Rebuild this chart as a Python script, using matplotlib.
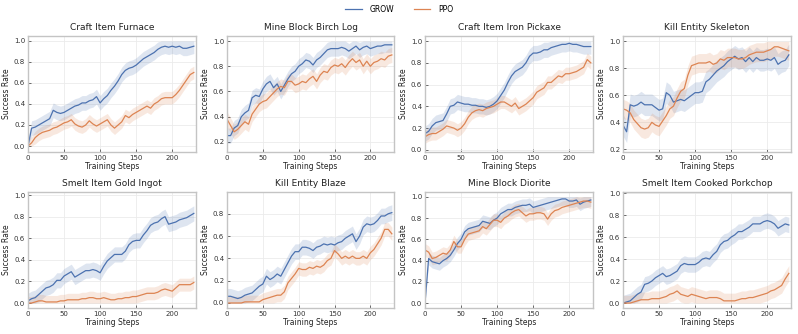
import matplotlib
matplotlib.use("Agg")
import matplotlib.pyplot as plt
import numpy as np

steps = list(range(0, 235, 5))

titles = ["Craft Item Furnace", "Mine Block Birch Log", "Craft Item Iron Pickaxe",
          "Kill Entity Skeleton", "Smelt Item Gold Ingot", "Kill Entity Blaze",
          "Mine Block Diorite", "Smelt Item Cooked Porkchop"]

grow_furnace = [0.0, 0.17, 0.18, 0.20, 0.22, 0.24, 0.26, 0.34, 0.32, 0.31, 0.32, 0.34, 0.36, 0.38, 0.39, 0.41,
                0.41, 0.43, 0.44, 0.47, 0.41, 0.45, 0.48, 0.53, 0.57, 0.62, 0.68, 0.72, 0.74, 0.75, 0.77, 0.80,
                0.83, 0.85, 0.87, 0.89, 0.92, 0.94, 0.95, 0.94, 0.95, 0.94, 0.95, 0.93, 0.93, 0.94, 0.95]
ppo_furnace = [0.0, 0.03, 0.08, 0.11, 0.13, 0.14, 0.15, 0.17, 0.18, 0.20, 0.22, 0.23, 0.25, 0.21, 0.19, 0.18,
               0.20, 0.24, 0.21, 0.19, 0.21, 0.23, 0.25, 0.20, 0.17, 0.20, 0.23, 0.29, 0.27, 0.30, 0.32, 0.34,
               0.36, 0.38, 0.36, 0.40, 0.42, 0.45, 0.46, 0.46, 0.46, 0.49, 0.53, 0.58, 0.63, 0.68, 0.70]

grow_birch = [0.25, 0.25, 0.31, 0.33, 0.40, 0.43, 0.45, 0.55, 0.57, 0.56, 0.62, 0.66, 0.68, 0.63, 0.66, 0.60,
              0.65, 0.70, 0.74, 0.76, 0.80, 0.82, 0.85, 0.84, 0.81, 0.85, 0.87, 0.90, 0.93, 0.94, 0.94, 0.94,
              0.95, 0.94, 0.92, 0.94, 0.96, 0.93, 0.95, 0.96, 0.94, 0.95, 0.96, 0.96, 0.97, 0.97, 0.97]
ppo_birch = [0.38, 0.33, 0.28, 0.30, 0.33, 0.36, 0.34, 0.42, 0.46, 0.50, 0.52, 0.53, 0.56, 0.59, 0.62, 0.64,
             0.63, 0.68, 0.68, 0.65, 0.66, 0.68, 0.67, 0.70, 0.72, 0.68, 0.73, 0.76, 0.75, 0.79, 0.81, 0.80,
             0.82, 0.79, 0.83, 0.86, 0.83, 0.85, 0.80, 0.84, 0.80, 0.83, 0.84, 0.86, 0.85, 0.88, 0.89]

grow_pickaxe = [0.15, 0.17, 0.22, 0.25, 0.26, 0.27, 0.33, 0.40, 0.41, 0.44, 0.43, 0.42, 0.42, 0.41, 0.41, 0.40,
                0.40, 0.39, 0.40, 0.42, 0.45, 0.50, 0.55, 0.62, 0.68, 0.72, 0.74, 0.76, 0.80, 0.86, 0.89, 0.89,
                0.90, 0.92, 0.92, 0.94, 0.95, 0.96, 0.97, 0.97, 0.98, 0.97, 0.97, 0.96, 0.95, 0.95, 0.95]
ppo_pickaxe = [0.12, 0.14, 0.15, 0.15, 0.17, 0.19, 0.22, 0.21, 0.20, 0.18, 0.20, 0.24, 0.30, 0.34, 0.36, 0.37,
               0.36, 0.38, 0.39, 0.40, 0.42, 0.44, 0.44, 0.42, 0.40, 0.43, 0.38, 0.40, 0.42, 0.45, 0.48, 0.53,
               0.55, 0.57, 0.62, 0.62, 0.65, 0.68, 0.67, 0.70, 0.70, 0.71, 0.72, 0.74, 0.76, 0.83, 0.80]

grow_skeleton = [0.38, 0.33, 0.53, 0.52, 0.53, 0.55, 0.53, 0.53, 0.53, 0.51, 0.49, 0.50, 0.62, 0.60, 0.55, 0.56,
                 0.57, 0.56, 0.58, 0.60, 0.62, 0.62, 0.63, 0.70, 0.72, 0.75, 0.78, 0.80, 0.82, 0.85, 0.87, 0.89,
                 0.87, 0.88, 0.85, 0.88, 0.85, 0.88, 0.86, 0.86, 0.87, 0.86, 0.88, 0.83, 0.85, 0.86, 0.90]
ppo_skeleton = [0.50, 0.49, 0.47, 0.42, 0.39, 0.36, 0.35, 0.36, 0.40, 0.38, 0.37, 0.41, 0.45, 0.50, 0.52, 0.58,
                0.63, 0.65, 0.75, 0.82, 0.83, 0.84, 0.84, 0.84, 0.85, 0.83, 0.84, 0.87, 0.86, 0.88, 0.88, 0.88,
                0.87, 0.87, 0.88, 0.90, 0.91, 0.92, 0.92, 0.92, 0.93, 0.94, 0.96, 0.96, 0.95, 0.94, 0.93]

grow_gold = [0.02, 0.04, 0.05, 0.08, 0.11, 0.14, 0.15, 0.17, 0.21, 0.21, 0.25, 0.27, 0.29, 0.24, 0.26, 0.28,
             0.30, 0.30, 0.31, 0.30, 0.28, 0.34, 0.39, 0.42, 0.45, 0.45, 0.45, 0.48, 0.54, 0.57, 0.58, 0.58,
             0.63, 0.67, 0.72, 0.74, 0.75, 0.78, 0.80, 0.73, 0.74, 0.75, 0.77, 0.78, 0.79, 0.81, 0.83]
ppo_gold = [0.0, 0.0, 0.01, 0.02, 0.02, 0.01, 0.01, 0.01, 0.01, 0.02, 0.02, 0.03, 0.03, 0.03, 0.03, 0.04,
            0.04, 0.05, 0.05, 0.04, 0.04, 0.05, 0.04, 0.03, 0.03, 0.04, 0.04, 0.05, 0.05, 0.06, 0.06, 0.07,
            0.08, 0.09, 0.09, 0.09, 0.10, 0.12, 0.13, 0.12, 0.11, 0.14, 0.17, 0.17, 0.17, 0.17, 0.19]

grow_blaze = [0.06, 0.06, 0.05, 0.04, 0.05, 0.07, 0.08, 0.09, 0.12, 0.15, 0.17, 0.24, 0.21, 0.23, 0.26, 0.24,
              0.30, 0.36, 0.42, 0.46, 0.46, 0.50, 0.50, 0.49, 0.47, 0.50, 0.51, 0.53, 0.52, 0.53, 0.52, 0.54,
              0.55, 0.58, 0.60, 0.62, 0.55, 0.60, 0.68, 0.71, 0.70, 0.71, 0.74, 0.78, 0.78, 0.80, 0.81]
ppo_blaze = [0.0, 0.0, 0.0, 0.0, 0.0, 0.01, 0.01, 0.01, 0.01, 0.01, 0.03, 0.04, 0.05, 0.06, 0.07, 0.07,
             0.10, 0.18, 0.22, 0.26, 0.31, 0.30, 0.30, 0.32, 0.31, 0.33, 0.32, 0.34, 0.38, 0.40, 0.47, 0.44,
             0.40, 0.42, 0.40, 0.42, 0.40, 0.40, 0.42, 0.40, 0.45, 0.48, 0.53, 0.58, 0.66, 0.66, 0.62]

grow_diorite = [0.0, 0.42, 0.39, 0.38, 0.37, 0.40, 0.42, 0.45, 0.50, 0.56, 0.60, 0.67, 0.70, 0.71, 0.72, 0.73,
                0.77, 0.76, 0.75, 0.78, 0.80, 0.84, 0.86, 0.88, 0.88, 0.90, 0.91, 0.92, 0.92, 0.93, 0.90, 0.91,
                0.92, 0.93, 0.94, 0.95, 0.96, 0.97, 0.98, 0.98, 0.96, 0.96, 0.97, 0.93, 0.95, 0.96, 0.97]
ppo_diorite = [0.50, 0.48, 0.42, 0.43, 0.45, 0.47, 0.46, 0.50, 0.58, 0.53, 0.53, 0.60, 0.65, 0.66, 0.67, 0.68,
               0.72, 0.70, 0.74, 0.78, 0.78, 0.76, 0.80, 0.82, 0.85, 0.87, 0.88, 0.85, 0.82, 0.84, 0.84, 0.85,
               0.85, 0.84, 0.79, 0.84, 0.87, 0.88, 0.90, 0.91, 0.92, 0.93, 0.94, 0.95, 0.96, 0.96, 0.95]

grow_porkchop = [0.0, 0.01, 0.02, 0.05, 0.08, 0.10, 0.17, 0.18, 0.20, 0.23, 0.25, 0.27, 0.24, 0.25, 0.27, 0.29,
                 0.34, 0.36, 0.35, 0.35, 0.35, 0.37, 0.40, 0.41, 0.40, 0.44, 0.47, 0.53, 0.56, 0.57, 0.60, 0.62,
                 0.65, 0.65, 0.67, 0.69, 0.72, 0.72, 0.72, 0.74, 0.75, 0.74, 0.72, 0.68, 0.70, 0.72, 0.71]
ppo_porkchop = [0.0, 0.0, 0.0, 0.01, 0.02, 0.03, 0.03, 0.03, 0.04, 0.04, 0.04, 0.05, 0.06, 0.08, 0.09, 0.11,
                0.08, 0.07, 0.06, 0.08, 0.07, 0.06, 0.05, 0.04, 0.05, 0.05, 0.05, 0.04, 0.02, 0.02, 0.02, 0.02,
                0.03, 0.04, 0.04, 0.05, 0.05, 0.06, 0.07, 0.08, 0.09, 0.11, 0.12, 0.14, 0.16, 0.22, 0.27]

grow_series = [grow_furnace, grow_birch, grow_pickaxe, grow_skeleton,
               grow_gold, grow_blaze, grow_diorite, grow_porkchop]
ppo_series = [ppo_furnace, ppo_birch, ppo_pickaxe, ppo_skeleton,
              ppo_gold, ppo_blaze, ppo_diorite, ppo_porkchop]
grow_band = [0.07, 0.06, 0.07, 0.08, 0.07, 0.07, 0.06, 0.07]
ppo_band = [0.06, 0.06, 0.06, 0.07, 0.06, 0.06, 0.06, 0.07]

ylims = [(-0.057, 1.047), (0.12, 1.04), (-0.02, 1.047), (0.18, 1.04),
         (-0.046, 1.028), (-0.045, 0.995), (-0.045, 1.045), (-0.045, 1.01)]

blue = "#4c72b0"
orange = "#dd8452"

fig = plt.figure(figsize=(7.98, 3.34), dpi=100)
W, H = 798, 334
lefts = [28, 227, 425, 623]
rights = [196, 394, 593, 791]
tops = [36, 192]
bottoms = [152, 308]

x = np.array(steps)
for i in range(8):
    r, c = divmod(i, 4)
    ax = fig.add_axes([lefts[c] / W, 1 - bottoms[r] / H,
                       (rights[c] - lefts[c]) / W, (bottoms[r] - tops[r]) / H])
    g = np.array(grow_series[i])
    p = np.array(ppo_series[i])
    ax.fill_between(x, np.clip(g - grow_band[i], 0, 1), np.clip(g + grow_band[i], 0, 1),
                    color=blue, alpha=0.18, lw=0)
    ax.fill_between(x, np.clip(p - ppo_band[i], 0, 1), np.clip(p + ppo_band[i], 0, 1),
                    color=orange, alpha=0.18, lw=0)
    ax.plot(x, g, color=blue, lw=0.9, label="GROW")
    ax.plot(x, p, color=orange, lw=0.9, label="PPO")
    ax.set_xlim(0, 233)
    ax.set_ylim(*ylims[i])
    ax.set_xticks([0, 50, 100, 150, 200])
    ax.grid(True, color="#ebebeb", lw=0.6)
    ax.set_axisbelow(True)
    for s in ax.spines.values():
        s.set_color("#c4c4c4")
        s.set_linewidth(1.0)
    ax.tick_params(direction="in", length=2, width=0.5, colors="#333333", labelsize=5, pad=2)
    ax.set_title(titles[i], fontsize=6.5, pad=4, color="#222222")
    ax.set_xlabel("Training Steps", fontsize=5.5, labelpad=1, color="#222222")
    ax.set_ylabel("Success Rate", fontsize=5.5, labelpad=2, color="#222222")
    if i == 0:
        handles, labels = ax.get_legend_handles_labels()

fig.legend(handles, labels, loc="center", bbox_to_anchor=(0.5, 1 - 9 / H), ncol=2,
           frameon=False, fontsize=5.5, handlelength=2.2, columnspacing=2.6, handletextpad=1.0)

fig.savefig("out.png", dpi=100)
